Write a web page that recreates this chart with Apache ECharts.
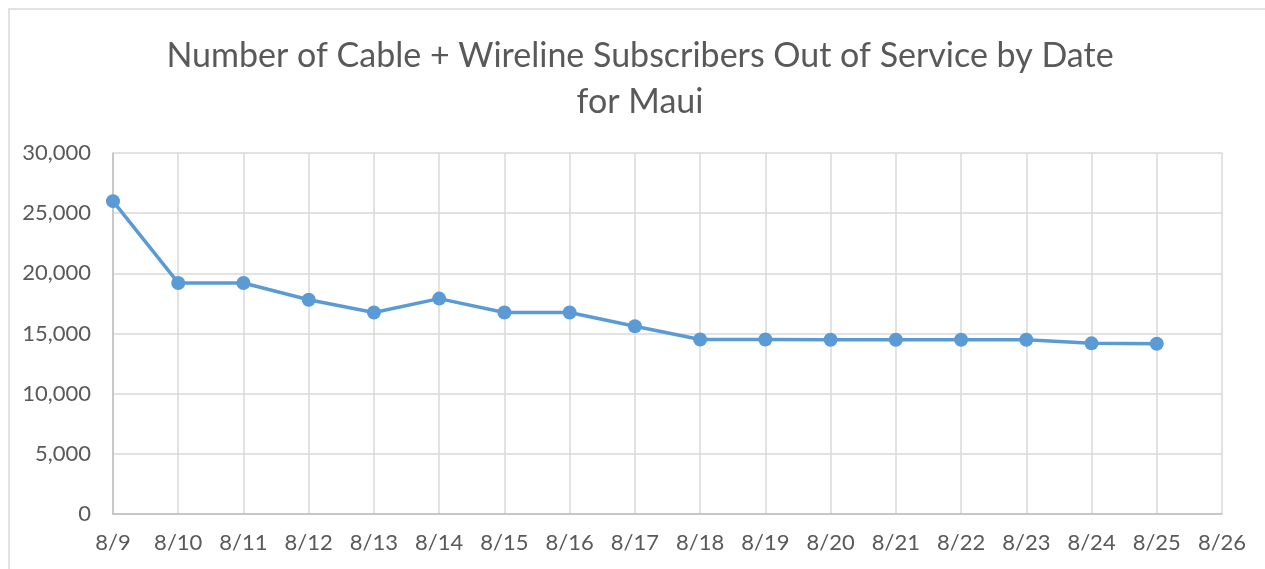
<!DOCTYPE html>
<html>
<head>
<meta charset="utf-8">
<title>Cable + Wireline Subscribers Out of Service - Maui</title>
<script src="https://cdn.jsdelivr.net/npm/echarts@6/dist/echarts.min.js"></script>
<style>
  html, body { margin: 0; padding: 0; background: #fff; }
  #chart { width: 1265px; height: 569px; }
</style>
</head>
<body>
<div id="chart"></div>
<script>
// 日期（8月的日）和断网用户数
const days = [9, 10, 11, 12, 13, 14, 15, 16, 17, 18, 19, 20, 21, 22, 23, 24, 25]
const outOfService = [26000, 19200, 19200, 17800, 16750, 17900, 16750, 16750, 15600,
  14500, 14500, 14480, 14480, 14480, 14480, 14180, 14150]
const titleLines = ['Number of Cable + Wireline Subscribers Out of Service by Date', 'for Maui']

const textColor = '#595959'
const gridColor = '#d9d9d9'
const font = 'Lato, "Open Sans", sans-serif'

const chart = echarts.init(document.getElementById('chart'))

const option = {
  animation: false,
  graphic: [{
    type: 'rect',
    shape: { x: 9, y: 9, width: 1300, height: 600 },
    style: { fill: 'none', stroke: gridColor, lineWidth: 1.5 }
  }],
  title: {
    text: titleLines.join('\n'),
    left: 635,
    textAlign: 'center',
    top: 28,
    textStyle: {
      color: textColor,
      fontFamily: font,
      fontWeight: 'normal',
      fontSize: 34,
      lineHeight: 46
    }
  },
  grid: {
    left: 113,
    right: 43,
    top: 153,
    bottom: 55
  },
  xAxis: {
    type: 'value',
    min: 9,
    max: 26,
    interval: 1,
    axisLine: { lineStyle: { color: '#bfbfbf', width: 1.5 } },
    axisTick: { show: false },
    axisLabel: {
      color: textColor,
      fontFamily: font,
      fontSize: 22,
      margin: 18,
      formatter: v => '8/' + v
    },
    splitLine: { show: true, lineStyle: { color: gridColor, width: 1.5 } }
  },
  yAxis: {
    type: 'value',
    min: 0,
    max: 30000,
    interval: 5000,
    axisLine: { show: true, lineStyle: { color: '#bfbfbf', width: 1.5 } },
    axisTick: { show: false },
    axisLabel: {
      color: textColor,
      fontFamily: font,
      fontSize: 22,
      margin: 22,
      formatter: v => v.toLocaleString('en-US')
    },
    splitLine: { lineStyle: { color: gridColor, width: 1.5 } }
  },
  series: [{
    type: 'line',
    data: days.map((d, i) => [d, outOfService[i]]),
    symbol: 'circle',
    symbolSize: 14,
    lineStyle: { color: '#5b9bd5', width: 3.5 },
    itemStyle: { color: '#5b9bd5' }
  }]
}

chart.setOption(option)
</script>
</body>
</html>
